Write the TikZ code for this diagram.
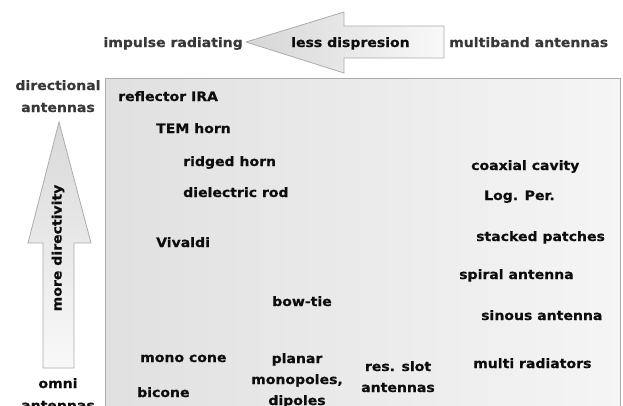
\documentclass[tikz,border=0pt]{standalone}
\usepackage{fontspec}
\setmainfont{DejaVu Sans}[FakeStretch=1.08, BoldFeatures={FakeBold=0.6}]
\begin{document}
\begin{tikzpicture}[x=1pt,y=-1pt,
  lbl/.style={font=\bfseries\fontsize{13}{15}\selectfont, text=black!95, inner sep=0pt},
  outer/.style={lbl, text=black!78},
  arrowshape/.style={draw=gray!65, line width=0.8pt}]
\useasboundingbox (0,0) rectangle (623,405);
\clip (0,0) rectangle (623,405);
% main field
\shade[left color=gray!24, right color=gray!8, draw=gray!65, line width=0.9pt]
  (105,78) rectangle (620,440);
% horizontal arrow
\shade[arrowshape, left color=gray!32, right color=gray!5]
  (246,42) -- (344,12) -- (344,26) -- (444,26) -- (444,58) -- (344,58) -- (344,73) -- cycle;
% vertical arrow
\shade[arrowshape, top color=gray!30, bottom color=gray!5]
  (59,122) -- (91,243) -- (74,243) -- (74,368) -- (43,368) -- (43,243) -- (28,243) -- cycle;
% outer labels
\node[outer, anchor=base east] (imp) at (243,47) {impulse radiating};
\node[lbl, anchor=base west] (less) at (291,47) {less dispresion};
\node[outer, anchor=base west] (mb) at (449,47) {multiband antennas};
\node[outer, anchor=base] (dir1) at (58,90) {directional};
\node[outer, anchor=base] (dir2) at (58,112) {antennas};
\node[lbl, rotate=90, anchor=center] (more) at (58,248) {more directivity};
\node[lbl, anchor=base] (omni1) at (58,388) {omni};
\node[lbl, anchor=base] (omni2) at (58,410) {antennas};
% inner labels
\node[lbl, anchor=base west] (ira) at (118,101) {reflector IRA};
\node[lbl, anchor=base west] (tem) at (156,133) {TEM horn};
\node[lbl, anchor=base west] (ridged) at (183,166) {ridged horn};
\node[lbl, anchor=base west] (diel) at (183,197) {dielectric rod};
\node[lbl, anchor=base west] (viv) at (156,247) {Vivaldi};
\node[lbl, anchor=base west] (coax) at (471,170) {coaxial cavity};
\node[lbl, anchor=base west] (logp) at (484,200) {Log. Per.};
\node[lbl, anchor=base west] (stack) at (476,241) {stacked patches};
\node[lbl, anchor=base west] (spiral) at (459,279) {spiral antenna};
\node[lbl, anchor=base] (bow) at (302,306) {bow-tie};
\node[lbl, anchor=base west] (sin) at (481,320) {sinous antenna};
\node[lbl, anchor=base west] (mono) at (140,362) {mono cone};
\node[lbl, anchor=base] (pl1) at (297,363) {planar};
\node[lbl, anchor=base] (pl2) at (297,384) {monopoles,};
\node[lbl, anchor=base] (pl3) at (297,405) {dipoles};
\node[lbl, anchor=base] (rs1) at (398,371) {res. slot};
\node[lbl, anchor=base] (rs2) at (398,392) {antennas};
\node[lbl, anchor=base west] (multi) at (473,368) {multi radiators};
\node[lbl, anchor=base west] (bic) at (137,397) {bicone};
\end{tikzpicture}
\end{document}
